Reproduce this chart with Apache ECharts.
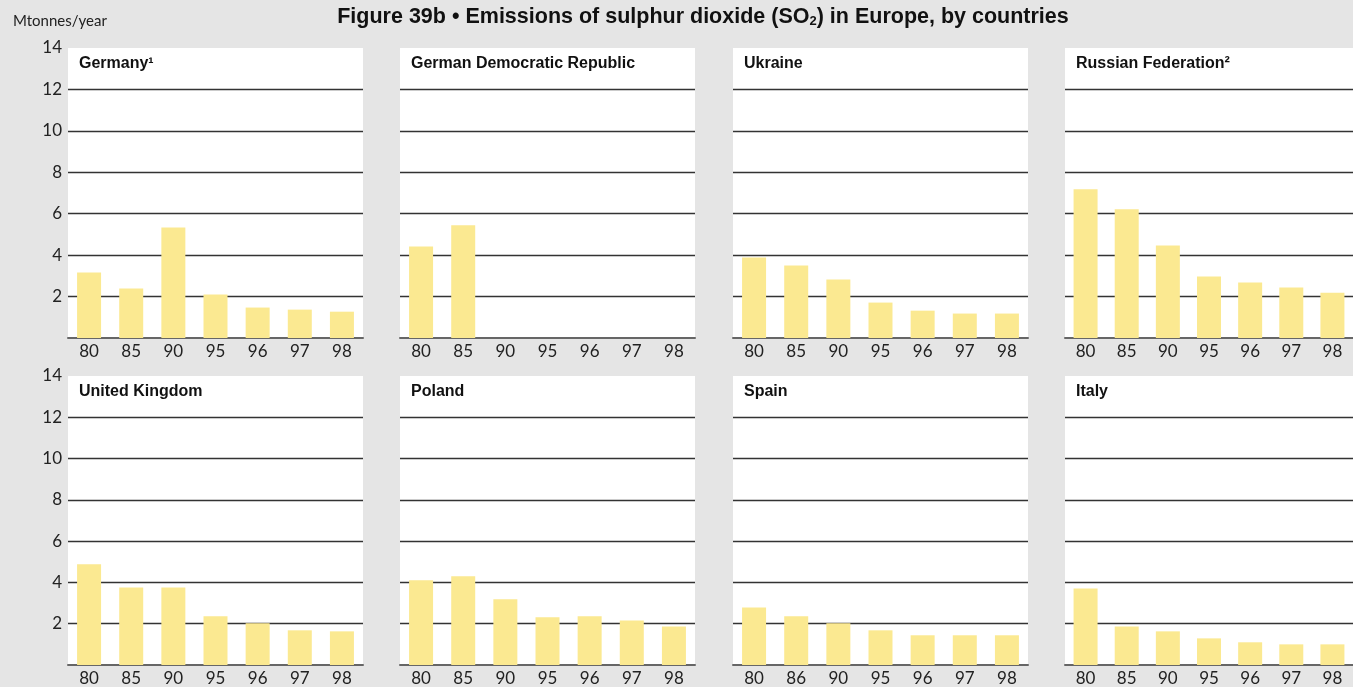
<!DOCTYPE html>
<html>
  <head>
    <meta charset="UTF-8" />
    <title>Figure 39b - Emissions of sulphur dioxide in Europe</title>
    <script src="https://cdn.jsdelivr.net/npm/echarts@6/dist/echarts.min.js"></script>
    <style>
      html, body { margin: 0; padding: 0; background: #e5e5e5; }
      #main { width: 1353px; height: 687px; }
    </style>
  </head>
  <body>
    <div id="main"></div>
    <script type="text/javascript">
      // 数据（单位：Mtonnes/year）
      var years = ["80", "85", "90", "95", "96", "97", "98"];
      var yearsSpain = ["80", "86", "90", "95", "96", "97", "98"];
      var countries = [
        "Germany¹",
        "German Democratic Republic",
        "Ukraine",
        "Russian Federation²",
        "United Kingdom",
        "Poland",
        "Spain",
        "Italy"
      ];
      var germany = [3.16, 2.39, 5.34, 2.1, 1.47, 1.37, 1.27];
      var gdr = [4.42, 5.44, null, null, null, null, null];
      var ukraine = [3.89, 3.5, 2.82, 1.71, 1.32, 1.18, 1.18];
      var russia = [7.18, 6.21, 4.47, 2.97, 2.68, 2.44, 2.19];
      var uk = [4.88, 3.76, 3.76, 2.36, 2.02, 1.68, 1.63];
      var poland = [4.1, 4.3, 3.18, 2.31, 2.36, 2.16, 1.87];
      var spain = [2.79, 2.36, 2.02, 1.68, 1.44, 1.44, 1.44];
      var italy = [3.71, 1.87, 1.63, 1.29, 1.1, 1.0, 1.0];

      var panelData = [germany, gdr, ukraine, russia, uk, poland, spain, italy];
      var panelCats = [years, years, years, years, years, years, yearsSpain, years];

      var colLeft = [68, 400, 733, 1065];
      var rowTop = [48, 376];
      var panelW = 295;
      var panelH = 290;

      var grids = [], xAxes = [], yAxes = [], series = [], titles = [];

      titles.push({
        text: "Figure 39b • Emissions of sulphur dioxide (SO{sub|2}) in Europe, by countries",
        left: 698,
        textAlign: "center",
        top: 1,
        textStyle: {
          fontFamily: "Liberation Sans",
          fontWeight: "bold",
          fontSize: 21.5,
          color: "#111",
          rich: {
            sub: { fontSize: 13, fontWeight: "bold", verticalAlign: "bottom", padding: [9, 0, 0, 0] }
          }
        }
      });
      titles.push({
        text: "Mtonnes/year",
        left: 8,
        top: 9,
        textStyle: { fontFamily: "Lato", fontWeight: "normal", fontSize: 15, color: "#222" }
      });

      for (var i = 0; i < 8; i++) {
        var col = i % 4;
        var row = Math.floor(i / 4);
        grids.push({
          left: colLeft[col],
          top: rowTop[row],
          width: panelW,
          height: panelH,
          show: true,
          backgroundColor: "#ffffff",
          borderWidth: 0
        });
        xAxes.push({
          type: "category",
          gridIndex: i,
          data: panelCats[i],
          axisLine: { show: true, lineStyle: { color: "#666", width: 2 } },
          axisTick: { show: false },
          axisLabel: { margin: 5, fontFamily: "Lato", fontSize: 17, color: "#222" }
        });
        yAxes.push({
          type: "value",
          gridIndex: i,
          min: 0,
          max: 14,
          interval: 2,
          axisLine: { show: false },
          axisTick: { show: false },
          axisLabel: {
            show: col === 0,
            margin: 6,
            fontFamily: "Lato",
            fontSize: 17,
            color: "#222",
            formatter: function (v) { return v === 0 ? "" : v; }
          },
          splitLine: {
            show: true,
            showMinLine: false,
            showMaxLine: false,
            lineStyle: { color: "#333", width: 1.4 }
          }
        });
        series.push({
          type: "bar",
          xAxisIndex: i,
          yAxisIndex: i,
          data: panelData[i],
          barWidth: 24,
          itemStyle: { color: "#fbe991" },
          silent: true
        });
        titles.push({
          text: countries[i],
          left: colLeft[col] + 6,
          top: rowTop[row] + 3,
          textStyle: { fontFamily: "Liberation Sans", fontWeight: "bold", fontSize: 16, color: "#111" }
        });
      }

      var myChart = echarts.init(document.getElementById("main"));
      myChart.setOption({
        backgroundColor: "#e5e5e5",
        animation: false,
        title: titles,
        grid: grids,
        xAxis: xAxes,
        yAxis: yAxes,
        series: series
      });
    </script>
  </body>
</html>
